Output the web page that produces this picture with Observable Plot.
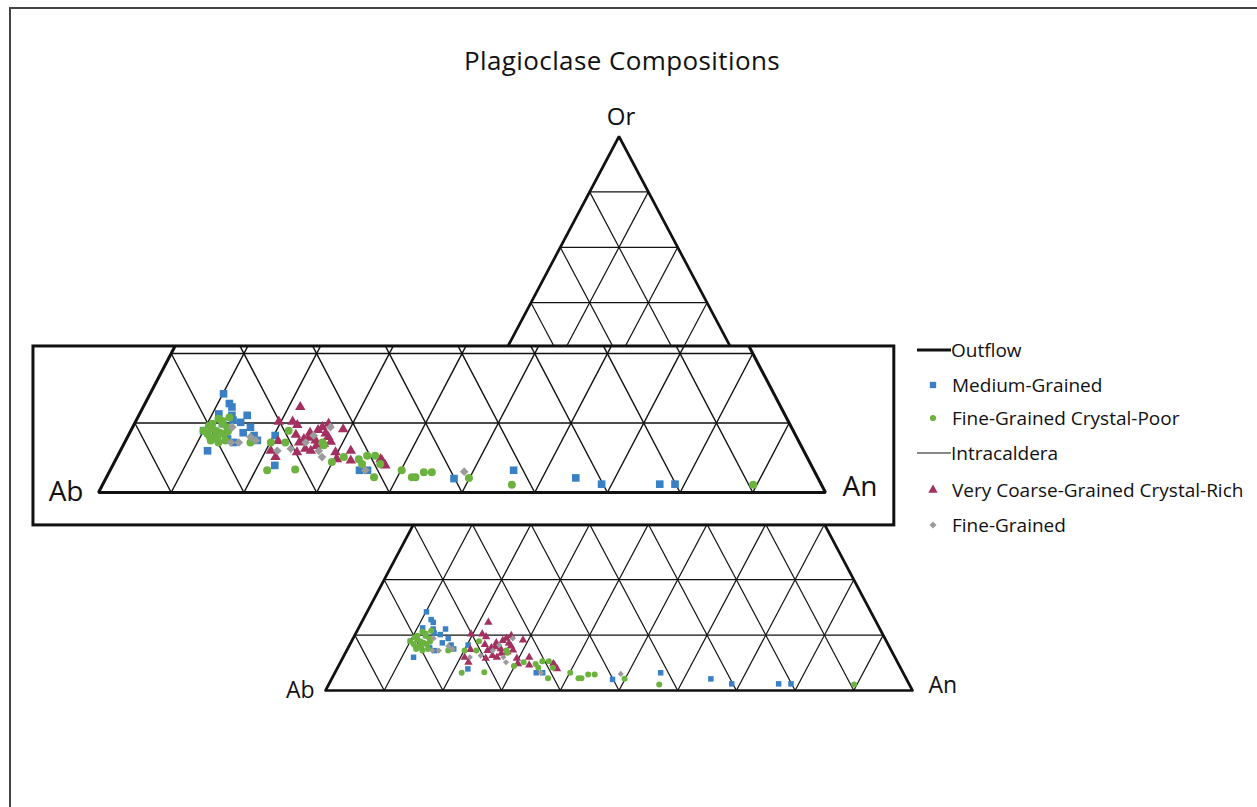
<!DOCTYPE html>
<html>
<head>
<meta charset="utf-8">
<script src="https://cdn.jsdelivr.net/npm/d3@7"></script>
<script src="https://cdn.jsdelivr.net/npm/@observablehq/plot@0.6"></script>
<style>
  body { margin: 0; background: #fff; }
  #fig { position: relative; width: 1257px; height: 807px; overflow: hidden; font-family: "Open Sans", sans-serif; color: #111; }
  #fig > svg { position: absolute; left: 0; top: 0; }
  .frame { position: absolute; left: 9px; top: 7px; right: -10px; bottom: -10px; border-left: 2px solid #444; border-top: 2px solid #444; }
  .title { position: absolute; left: 0; width: 1244px; top: 47px; text-align: center; font-size: 26px; line-height: 26px; letter-spacing: 0.4px; }
  .legend-row { position: absolute; left: 917px; height: 24px; display: flex; align-items: center; font-size: 19px; line-height: 24px; white-space: nowrap; }
  .legend-row svg { display: block; flex: none; }
</style>
</head>
<body>
<div id="fig"><div class="frame"></div></div>
<script>
// Feldspar compositions in mol% [An, Or]; Ab = 100 - An - Or
const mediumGrained = [
  [10.1, 14.2], [10.9, 11.3], [12.2, 12.3], [12.8, 11.1], [14.9, 11.1], [14.5, 10.1],
  [16.2, 9.4], [17.3, 8.2], [18.1, 7.5], [10.0, 8.9], [12.0, 6.0], [13.9, 7.7],
  [15.0, 7.2], [12.1, 9.9], [20.2, 8.2], [22.3, 3.9], [34.3, 3.2], [35.4, 3.2],
  [47.9, 2.0], [55.5, 3.2], [64.6, 2.1], [68.6, 1.2], [76.6, 1.2], [78.7, 1.2],
  [11.6, 12.8], [13.3, 10.4], [15.6, 8.6]
];
const fineGrainedCrystalPoor = [
  [10.8, 8.4], [10.7, 9.9], [12.1, 9.9], [11.7, 8.9], [13.0, 8.4], [11.7, 7.5],
  [12.9, 7.2], [13.7, 7.5], [12.1, 8.0], [10.0, 8.9], [13.0, 9.4], [11.2, 10.6],
  [12.6, 10.8], [11.0, 9.2], [12.4, 8.6], [11.4, 7.9], [12.5, 7.7], [10.4, 9.6],
  [13.4, 8.8], [11.9, 10.3], [17.3, 7.2], [20.1, 7.2], [21.7, 8.9], [22.1, 7.2],
  [21.6, 3.2], [25.4, 3.3], [27.2, 7.2], [27.6, 6.8], [29.9, 4.4], [31.2, 5.1],
  [33.4, 4.8], [34.3, 5.3], [35.4, 5.3], [34.2, 4.1], [36.7, 4.1], [36.8, 2.2],
  [40.1, 3.2], [42.0, 2.2], [42.5, 2.2], [43.3, 2.9], [44.4, 2.9], [49.9, 2.1],
  [56.3, 1.1], [89.5, 1.1]
];
const veryCoarseGrainedCrystalRich = [
  [21.6, 12.3], [19.7, 10.2], [21.6, 10.2], [22.5, 9.7], [25.7, 9.0], [26.1, 9.4],
  [29.1, 9.1], [24.4, 7.7], [24.0, 7.2], [26.1, 7.5], [27.5, 7.0], [21.0, 7.4],
  [20.7, 6.0], [21.8, 5.1], [24.4, 5.8], [25.3, 6.3], [26.2, 6.0], [29.7, 5.8],
  [31.7, 6.0], [30.4, 4.8], [32.4, 4.6], [36.7, 4.6], [37.5, 3.9], [36.4, 4.8],
  [23.0, 8.3], [24.8, 8.6], [27.0, 8.5], [25.0, 7.9], [26.7, 9.9], [27.6, 8.0],
  [28.3, 7.3], [26.6, 6.7]
];
const fineGrained = [
  [13.7, 9.4], [14.6, 7.2], [15.7, 7.2], [17.9, 7.5], [21.6, 6.0], [23.3, 6.3],
  [24.9, 7.2], [25.5, 8.2], [27.2, 9.4], [27.3, 6.0], [28.2, 5.1], [35.1, 3.2],
  [48.8, 3.0], [16.9, 8.0]
];

const seriesNames = ["Medium-Grained", "Fine-Grained Crystal-Poor", "Very Coarse-Grained Crystal-Rich", "Fine-Grained"];
const groupNames = ["Outflow", "Intracaldera"];
const seriesColors = ["#3a80c4", "#6cb23f", "#a3305f", "#9b9b9b"];
const seriesSymbols = ["square", "circle", "triangle", "diamond2"];
const apexLabels = ["Ab", "An", "Or"];
const titleText = "Plagioclase Compositions";

// Ternary (An, Or) -> plot units; x runs Ab (0) to An (1), y is Or %
const MAIN = {x0: 0, kx: 1, y0: 0, ky: 1};
// enlarged strip of the low-Or part of the diagram
const INSET = {x0: -0.3867, kx: 1.2385, y0: 35.74, ky: 1.2545, orMax: 21};
const INSET_BOX = {x1: -0.4975, x2: 0.969, y1: 29.8, y2: 62.1};

function place(t, an, or) {
  return {x: t.x0 + t.kx * (an + or / 2) / 100, y: t.y0 + t.ky * or};
}
function seg(t, a, b) {
  const p = place(t, a[0], a[1]), q = place(t, b[0], b[1]);
  return {x1: p.x, y1: p.y, x2: q.x, y2: q.y};
}

// full-triangle grid every 10%
const steps = d3.range(10, 100, 10);
const mainGrid = steps.flatMap(k => [
  seg(MAIN, [0, k], [100 - k, k]),        // constant Or
  seg(MAIN, [k, 0], [k, 100 - k]),        // constant An
  seg(MAIN, [100 - k, 0], [0, 100 - k])   // constant Ab
]);
const mainOutline = [[0, 0], [100, 0], [0, 100], [0, 0], [100, 0]].map(d => place(MAIN, d[0], d[1]));

// strip grid, cut at orMax
const om = INSET.orMax;
const insetGrid = [
  ...[10, 20].map(k => seg(INSET, [0, k], [100 - k, k])),
  ...steps.map(k => { const o = Math.min(om, 100 - k); return seg(INSET, [k, 0], [k, o]); }),
  ...steps.map(k => { const o = Math.min(om, k); return seg(INSET, [k, 0], [k - o, o]); })
];
const insetOutline = [[0, om], [0, 0], [100, 0], [100 - om, om]].map(d => place(INSET, d[0], d[1]));

const seriesData = [mediumGrained, fineGrainedCrystalPoor, veryCoarseGrainedCrystalRich, fineGrained];
const drawOrder = [0, 2, 1, 3];
const mainR = [3.1, 3.0, 3.1, 2.8];
const insetR = [4.3, 4.0, 3.9, 3.9];

function dotMarks(t, radii) {
  return drawOrder.map(i => Plot.dot(seriesData[i].map(d => place(t, d[0], d[1])), {
    x: "x", y: "y", symbol: seriesSymbols[i], r: radii[i], fill: seriesColors[i], stroke: "none"
  }));
}

function labelMark(t, size, offs) {
  return [0, 1].map(i => Plot.text([place(t, i === 0 ? 0 : 100, 0)], {
    x: "x", y: "y", text: [apexLabels[i]], fontSize: size, lineAnchor: "bottom",
    textAnchor: i === 0 ? "end" : "start", dx: offs[i][0], dy: offs[i][1], fill: "#111"
  }));
}

const chart = Plot.plot({
  width: 1257, height: 807, margin: 0,
  x: {domain: [0, 1], range: [325, 912], axis: null},
  y: {domain: [0, 100], range: [690, 136], axis: null},
  style: {fontFamily: "Open Sans, sans-serif", background: "transparent"},
  marks: [
    Plot.link(mainGrid, {x1: "x1", y1: "y1", x2: "x2", y2: "y2", stroke: "#111", strokeWidth: 1.2}),
    Plot.line(mainOutline, {x: "x", y: "y", stroke: "#111", strokeWidth: 2.7, strokeLinejoin: "miter"}),
    Plot.rect([INSET_BOX], {x1: "x1", x2: "x2", y1: "y1", y2: "y2", fill: "white", stroke: "#111", strokeWidth: 3}),
    Plot.link(insetGrid, {x1: "x1", y1: "y1", x2: "x2", y2: "y2", stroke: "#111", strokeWidth: 1.4}),
    Plot.line(insetOutline, {x: "x", y: "y", stroke: "#111", strokeWidth: 3, strokeLinejoin: "miter"}),
    ...dotMarks(MAIN, mainR),
    ...dotMarks(INSET, insetR),
    ...labelMark(MAIN, 23, [[-11, 7], [16, 2]]),
    ...labelMark(INSET, 28, [[-15, 8], [17, 3]]),
    Plot.text([place(MAIN, 0, 100)], {x: "x", y: "y", text: [apexLabels[2]], fontSize: 24, lineAnchor: "bottom", dx: 2, dy: -12, fill: "#111"})
  ]
});

const fig = document.getElementById("fig");
fig.appendChild(chart);

const title = document.createElement("div");
title.className = "title";
title.textContent = titleText;
fig.appendChild(title);

// legend: group line entries followed by their series
const legendRows = [
  {kind: "line", label: groupNames[0], width: 3, center: 350},
  {kind: "dot", series: 0, center: 385},
  {kind: "dot", series: 1, center: 418},
  {kind: "line", label: groupNames[1], width: 1.2, center: 453},
  {kind: "dot", series: 2, center: 490},
  {kind: "dot", series: 3, center: 525}
];
const legendSize = [40, 30, 38, 32];
for (const row of legendRows) {
  const div = document.createElement("div");
  div.className = "legend-row";
  div.style.top = (row.center - 12) + "px";
  if (row.kind === "line") {
    const svg = d3.create("svg").attr("width", 34).attr("height", 24);
    svg.append("line").attr("x1", 0).attr("x2", 34).attr("y1", 12).attr("y2", 12)
      .attr("stroke", "#111").attr("stroke-width", row.width);
    div.appendChild(svg.node());
    div.appendChild(document.createTextNode(row.label));
  } else {
    const svg = d3.create("svg").attr("width", 35).attr("height", 24);
    const sym = {square: d3.symbolSquare, circle: d3.symbolCircle, triangle: d3.symbolTriangle, diamond2: d3.symbolDiamond2}[seriesSymbols[row.series]];
    svg.append("path").attr("transform", "translate(16,12)")
      .attr("d", d3.symbol(sym, legendSize[row.series])())
      .attr("fill", seriesColors[row.series]);
    div.appendChild(svg.node());
    div.appendChild(document.createTextNode(seriesNames[row.series]));
  }
  fig.appendChild(div);
}
</script>
</body>
</html>
